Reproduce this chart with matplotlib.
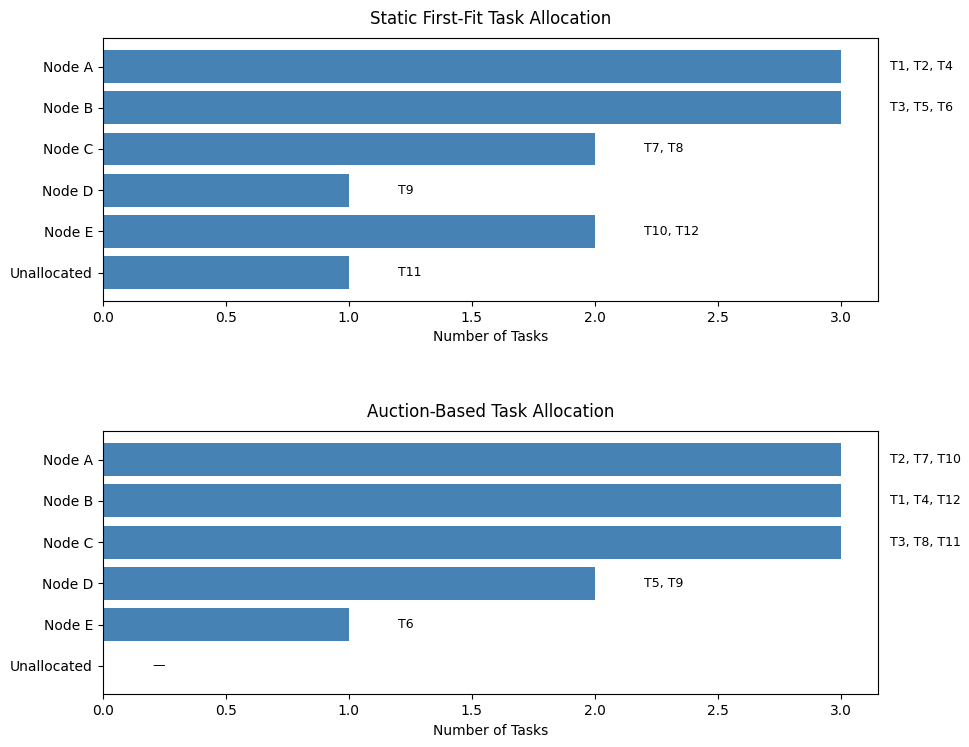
import matplotlib
matplotlib.use("Agg")
import matplotlib.pyplot as plt

nodes = ["Node A", "Node B", "Node C", "Node D", "Node E", "Unallocated"]

# static first-fit
static_counts = [3, 3, 2, 1, 2, 1]
static_tasks = ["T1, T2, T4", "T3, T5, T6", "T7, T8", "T9", "T10, T12", "T11"]

# auction based
auction_counts = [3, 3, 3, 2, 1, 0]
auction_tasks = ["T2, T7, T10", "T1, T4, T12", "T3, T8, T11", "T5, T9", "T6", "—"]

fig, axes = plt.subplots(2, 1, figsize=(9.7, 7.47), dpi=100)

panels = [
    (axes[0], static_counts, static_tasks, "Static First-Fit Task Allocation"),
    (axes[1], auction_counts, auction_tasks, "Auction-Based Task Allocation"),
]

for ax, counts, tasks, title in panels:
    ax.barh(nodes, counts, color="steelblue")
    ax.invert_yaxis()
    for i, (c, t) in enumerate(zip(counts, tasks)):
        ax.text(c + 0.2, i, t, va="center", ha="left", fontsize=9)
    ax.set_title(title, fontsize=12, pad=10)
    ax.set_xlabel("Number of Tasks")

plt.subplots_adjust(left=0.106, right=0.905, top=0.949, bottom=0.0705, hspace=0.495)
fig.savefig("out.png")
